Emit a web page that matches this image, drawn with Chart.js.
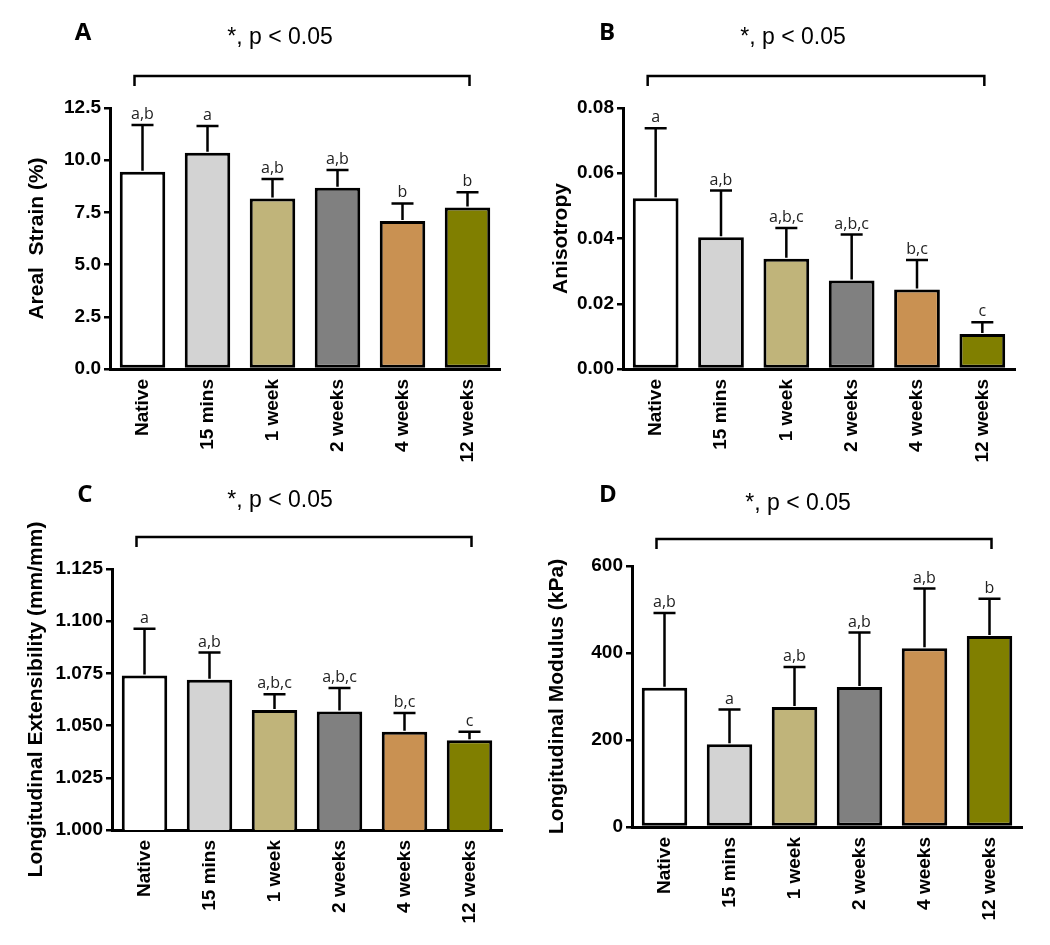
<!DOCTYPE html>
<html>
<head>
<meta charset="utf-8">
<script src="https://cdn.jsdelivr.net/npm/chart.js@4.4.1/dist/chart.umd.min.js"></script>
<style>
  body { margin: 0; background: #fff; }
  #wrap { position: relative; width: 1050px; height: 945px; }
  canvas { position: absolute; }
</style>
</head>
<body>
<div id="wrap">
  <canvas id="chartA" width="525" height="470" style="left:0;top:0"></canvas>
  <canvas id="chartB" width="525" height="470" style="left:525px;top:0"></canvas>
  <canvas id="chartC" width="525" height="475" style="left:0;top:470px"></canvas>
  <canvas id="chartD" width="525" height="475" style="left:525px;top:470px"></canvas>
</div>
<script>
// groups shared by all four panels
const categories = ["Native", "15 mins", "1 week", "2 weeks", "4 weeks", "12 weeks"];
const barColors = ["#ffffff", "#d3d3d3", "#c0b47a", "#808080", "#c99152", "#807f00"];

// A - areal strain
const strainMean = [9.45, 10.36, 8.17, 8.68, 7.09, 7.73];
const strainSD = [2.24, 1.28, 0.93, 0.85, 0.84, 0.73];
const strainLetters = ["a,b", "a", "a,b", "a,b", "b", "b"];

// B - anisotropy
const anisoMean = [0.0523, 0.0404, 0.0338, 0.0271, 0.0244, 0.0107];
const anisoSD = [0.0215, 0.0143, 0.0094, 0.0141, 0.0090, 0.0036];
const anisoLetters = ["a", "a,b", "a,b,c", "a,b,c", "b,c", "c"];

// C - longitudinal extensibility
const extMean = [1.074, 1.072, 1.0575, 1.0567, 1.047, 1.043];
const extSD = [0.0224, 0.013, 0.0075, 0.0113, 0.009, 0.004];
const extLetters = ["a", "a,b", "a,b,c", "a,b,c", "b,c", "c"];

// D - longitudinal modulus
const modMean = [320, 190, 276, 322, 411, 439];
const modSD = [172, 80, 92, 125, 137, 86];
const modLetters = ["a,b", "a", "a,b", "a,b", "a,b", "b"];

const sigText = "*, p < 0.05";

Chart.defaults.font.family = "'Liberation Sans', Arial, sans-serif";
Chart.defaults.color = "#000";

function annotPlugin(p) {
    return {
        id: "annot" + p.tag,
        afterDatasetsDraw(chart) {
            const ctx = chart.ctx;
            const xs = chart.scales.x, ys = chart.scales.y;
            ctx.save();
            ctx.strokeStyle = "#000";
            ctx.lineWidth = 2.5;
            ctx.fillStyle = "#222";
            ctx.font = "16px 'Open Sans', sans-serif";
            ctx.textAlign = "center";
            ctx.textBaseline = "alphabetic";
            p.mean.forEach((m, i) => {
                const cx = xs.getPixelForValue(i);
                const yTop = ys.getPixelForValue(m);
                const yErr = ys.getPixelForValue(m + p.sd[i]);
                ctx.beginPath();
                ctx.moveTo(cx, yTop - 1);
                ctx.lineTo(cx, yErr);
                ctx.moveTo(cx - 11, yErr);
                ctx.lineTo(cx + 11, yErr);
                ctx.stroke();
                ctx.fillText(p.letters[i], cx, yErr - 6);
            });

            // significance bracket
            const bl = xs.getPixelForValue(0) - 8;
            const br = xs.getPixelForValue(categories.length - 1) + 2;
            ctx.beginPath();
            ctx.moveTo(bl, p.bracketY + 10);
            ctx.lineTo(bl, p.bracketY);
            ctx.lineTo(br, p.bracketY);
            ctx.lineTo(br, p.bracketY + 10);
            ctx.stroke();

            ctx.fillStyle = "#000";
            ctx.textBaseline = "middle";
            ctx.font = "23px 'Liberation Sans', Arial, sans-serif";
            ctx.fillText(sigText, p.sigX, p.sigY);

            ctx.font = "bold 24px 'Open Sans', sans-serif";
            ctx.fillText(p.tag, p.tagX, p.tagY);
            ctx.restore();
        }
    };
}

function createPanel(p) {
    const ctx = document.getElementById(p.id).getContext("2d");
    new Chart(ctx, {
        type: "bar",
        data: {
            labels: categories,
            datasets: [{
                data: p.mean,
                backgroundColor: barColors,
                borderColor: "#000",
                borderWidth: 3,
                borderSkipped: false,
                barPercentage: 0.7,
                categoryPercentage: 1,
            }],
        },
        options: {
            responsive: false,
            animation: false,
            devicePixelRatio: 1,
            layout: { padding: { top: p.padTop, right: p.padRight, left: 0, bottom: 0 } },
            plugins: { legend: { display: false }, tooltip: { enabled: false } },
            scales: {
                x: {
                    afterFit: (s) => { s.height = p.xH; },
                    grid: { display: true, drawOnChartArea: false, drawTicks: false },
                    border: { display: true, color: "#000", width: 3 },
                    ticks: {
                        minRotation: 90, maxRotation: 90, padding: 10,
                        color: "#000",
                        font: { size: 19, weight: "bold" },
                    },
                },
                y: {
                    min: p.min, max: p.max,
                    afterFit: (s) => { s.width = p.yW; },
                    grid: { drawOnChartArea: false, drawTicks: true, tickLength: 6, color: "#000", lineWidth: 2.5 },
                    border: { display: true, color: "#000", width: 3 },
                    ticks: {
                        stepSize: p.step, padding: 3, color: "#000",
                        font: { size: 19, weight: "bold" },
                        callback: (v) => Number(v).toFixed(p.dec),
                    },
                    title: {
                        display: true, text: p.title, color: "#000",
                        font: { size: 21, weight: "bold" },
                        padding: { top: p.titlePad, bottom: 0 },
                    },
                },
            },
        },
        plugins: [annotPlugin(p)],
    });
}

createPanel({ id: "chartA", tag: "A", mean: strainMean, sd: strainSD, letters: strainLetters,
    min: 0, max: 12.5, step: 2.5, dec: 1, title: "Areal  Strain (%)",
    yW: 110, padTop: 108, padRight: 25, xH: 101, titlePad: 25,
    bracketY: 76, sigX: 280, sigY: 38, tagX: 83, tagY: 33 });

createPanel({ id: "chartB", tag: "B", mean: anisoMean, sd: anisoSD, letters: anisoLetters,
    min: 0, max: 0.08, step: 0.02, dec: 2, title: "Anisotropy",
    yW: 98, padTop: 108, padRight: 35, xH: 101, titlePad: 24,
    bracketY: 76, sigX: 268, sigY: 38, tagX: 82, tagY: 33 });

createPanel({ id: "chartC", tag: "C", mean: extMean, sd: extSD, letters: extLetters,
    min: 1.0, max: 1.125, step: 0.025, dec: 3, title: "Longitudinal Extensibility (mm/mm)",
    yW: 112, padTop: 99, padRight: 23, xH: 115, titlePad: 24,
    bracketY: 67, sigX: 280, sigY: 31, tagX: 85, tagY: 25 });

createPanel({ id: "chartD", tag: "D", mean: modMean, sd: modSD, letters: modLetters,
    min: 0, max: 600, step: 200, dec: 0, title: "Longitudinal Modulus (kPa)",
    yW: 107, padTop: 96, padRight: 28, xH: 118, titlePad: 20,
    bracketY: 69, sigX: 273, sigY: 34, tagX: 83, tagY: 25 });
</script>
</body>
</html>
